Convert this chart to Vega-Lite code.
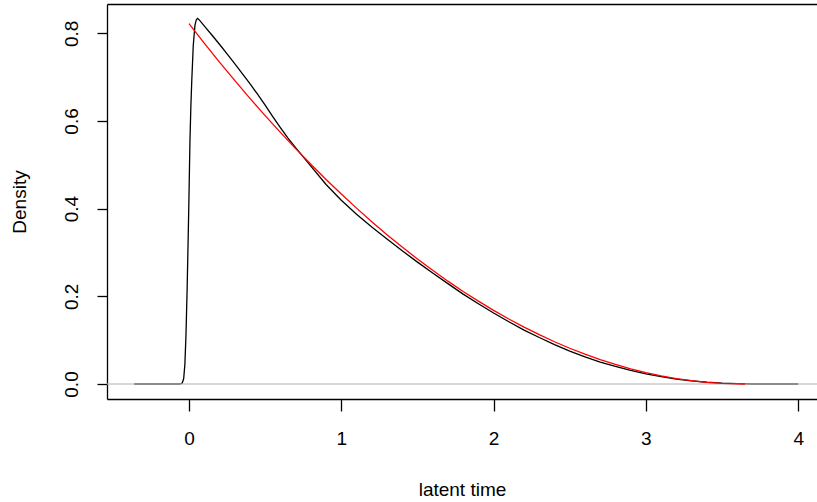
{
  "$schema": "https://vega.github.io/schema/vega-lite/v6.json",
  "width": 710,
  "height": 395,
  "autosize": {"type": "none"},
  "padding": {"left": 107, "top": 4, "right": 0, "bottom": 103},
  "background": "white",
  "config": {
    "font": "Liberation Sans",
    "view": {"stroke": null},
    "axis": {
      "grid": false,
      "domainColor": "black",
      "domainWidth": 1.3,
      "tickColor": "black",
      "tickWidth": 1.3,
      "labelColor": "black",
      "titleColor": "black",
      "labelFont": "Liberation Sans",
      "titleFont": "Liberation Sans",
      "labelFontSize": 19,
      "titleFontSize": 19,
      "titleFontWeight": "normal"
    }
  },
  "datasets": {
    "black": [
      {"x": -0.36, "y": 0}, {"x": -0.2, "y": 0}, {"x": -0.06, "y": 0},
      {"x": -0.045, "y": 0.002}, {"x": -0.035, "y": 0.012}, {"x": -0.027, "y": 0.045},
      {"x": -0.02, "y": 0.11}, {"x": -0.012, "y": 0.22}, {"x": -0.005, "y": 0.34},
      {"x": 0.0, "y": 0.43}, {"x": 0.006, "y": 0.55}, {"x": 0.012, "y": 0.63},
      {"x": 0.018, "y": 0.69}, {"x": 0.028, "y": 0.772}, {"x": 0.039, "y": 0.818},
      {"x": 0.048, "y": 0.831}, {"x": 0.056, "y": 0.834}, {"x": 0.066, "y": 0.831},
      {"x": 0.1, "y": 0.817}, {"x": 0.15, "y": 0.796}, {"x": 0.2, "y": 0.775},
      {"x": 0.25, "y": 0.753}, {"x": 0.3, "y": 0.731}, {"x": 0.35, "y": 0.708},
      {"x": 0.4, "y": 0.685}, {"x": 0.45, "y": 0.661}, {"x": 0.5, "y": 0.636},
      {"x": 0.55, "y": 0.610}, {"x": 0.6, "y": 0.585}, {"x": 0.65, "y": 0.561},
      {"x": 0.7, "y": 0.539}, {"x": 0.75, "y": 0.518},
      {"x": 0.8, "y": 0.497}, {"x": 0.9, "y": 0.455}, {"x": 1.0, "y": 0.419},
      {"x": 1.1, "y": 0.387}, {"x": 1.2, "y": 0.358}, {"x": 1.3, "y": 0.331},
      {"x": 1.4, "y": 0.304}, {"x": 1.5, "y": 0.278}, {"x": 1.6, "y": 0.253},
      {"x": 1.7, "y": 0.229}, {"x": 1.8, "y": 0.205}, {"x": 1.9, "y": 0.183},
      {"x": 2.0, "y": 0.162}, {"x": 2.1, "y": 0.142}, {"x": 2.2, "y": 0.123},
      {"x": 2.3, "y": 0.106}, {"x": 2.4, "y": 0.09}, {"x": 2.5, "y": 0.075},
      {"x": 2.6, "y": 0.062}, {"x": 2.7, "y": 0.05}, {"x": 2.8, "y": 0.04},
      {"x": 2.9, "y": 0.031}, {"x": 3.0, "y": 0.023}, {"x": 3.1, "y": 0.017},
      {"x": 3.2, "y": 0.011}, {"x": 3.3, "y": 0.007}, {"x": 3.4, "y": 0.004},
      {"x": 3.5, "y": 0.002}, {"x": 3.6, "y": 0.001}, {"x": 3.7, "y": 0.0},
      {"x": 4.0, "y": 0.0}
    ],
    "red": [
      {"x": 0.0, "y": 0.822}, {"x": 0.1, "y": 0.7776}, {"x": 0.2, "y": 0.7344},
      {"x": 0.3, "y": 0.6924}, {"x": 0.4, "y": 0.6517}, {"x": 0.5, "y": 0.6122},
      {"x": 0.6, "y": 0.5739}, {"x": 0.7, "y": 0.5369}, {"x": 0.8, "y": 0.5011},
      {"x": 0.9, "y": 0.4666}, {"x": 1.0, "y": 0.4333}, {"x": 1.1, "y": 0.4012},
      {"x": 1.2, "y": 0.3703}, {"x": 1.3, "y": 0.3407}, {"x": 1.4, "y": 0.3123},
      {"x": 1.5, "y": 0.2852}, {"x": 1.6, "y": 0.2593}, {"x": 1.7, "y": 0.2346},
      {"x": 1.8, "y": 0.2111}, {"x": 1.9, "y": 0.189}, {"x": 2.0, "y": 0.168},
      {"x": 2.1, "y": 0.1483}, {"x": 2.2, "y": 0.1297}, {"x": 2.3, "y": 0.1125},
      {"x": 2.4, "y": 0.0964}, {"x": 2.5, "y": 0.0816}, {"x": 2.6, "y": 0.068},
      {"x": 2.7, "y": 0.0557}, {"x": 2.8, "y": 0.0446}, {"x": 2.9, "y": 0.0347},
      {"x": 3.0, "y": 0.0261}, {"x": 3.1, "y": 0.0187}, {"x": 3.2, "y": 0.0125},
      {"x": 3.3, "y": 0.0076}, {"x": 3.4, "y": 0.0039}, {"x": 3.5, "y": 0.0014},
      {"x": 3.6, "y": 0.0002}, {"x": 3.65, "y": 0.0}
    ],
    "zero": [{"y": 0}]
  },
  "resolve": {"axis": {"x": "independent"}},
  "layer": [
    {
      "data": {"name": "black"},
      "mark": {"type": "line", "color": "black", "strokeWidth": 1.3},
      "encoding": {
        "x": {
          "field": "x", "type": "quantitative",
          "scale": {"domain": [-0.5384, 4.1234], "nice": false, "zero": false},
          "axis": {
            "orient": "bottom", "values": [0, 1, 2, 3, 4], "format": "d",
            "tickSize": 12, "labelPadding": 33, "labelBaseline": "alphabetic",
            "labelFlush": false, "labelOverlap": false,
            "title": "latent time", "titleBaseline": "alphabetic",
            "titleY": 96, "titleX": 355, "titleAlign": "center"
          }
        },
        "y": {
          "field": "y", "type": "quantitative",
          "scale": {"domain": [-0.0342, 0.8668], "nice": false, "zero": false},
          "axis": {
            "values": [0, 0.2, 0.4, 0.6, 0.8], "format": ".1f",
            "tickSize": 10, "labelPadding": 20, "labelAngle": 270,
            "labelAlign": "center", "labelBaseline": "alphabetic",
            "labelFlush": false, "labelOverlap": false,
            "title": "Density", "titleAngle": 270, "titleBaseline": "alphabetic",
            "titleAlign": "center", "titleX": -82, "titleY": 197.5
          }
        }
      }
    },
    {
      "data": {"name": "zero"},
      "mark": {"type": "rule", "color": "#BEBEBE", "strokeWidth": 1.5, "opacity": 0.8},
      "encoding": {
        "y": {"field": "y", "type": "quantitative"}
      }
    },
    {
      "data": {"name": "red"},
      "mark": {"type": "line", "color": "#FF0000", "strokeWidth": 1.3},
      "encoding": {
        "x": {
          "field": "x", "type": "quantitative",
          "axis": {"orient": "top", "labels": false, "ticks": false, "title": null, "domain": true}
        },
        "y": {"field": "y", "type": "quantitative"}
      }
    }
  ]
}
